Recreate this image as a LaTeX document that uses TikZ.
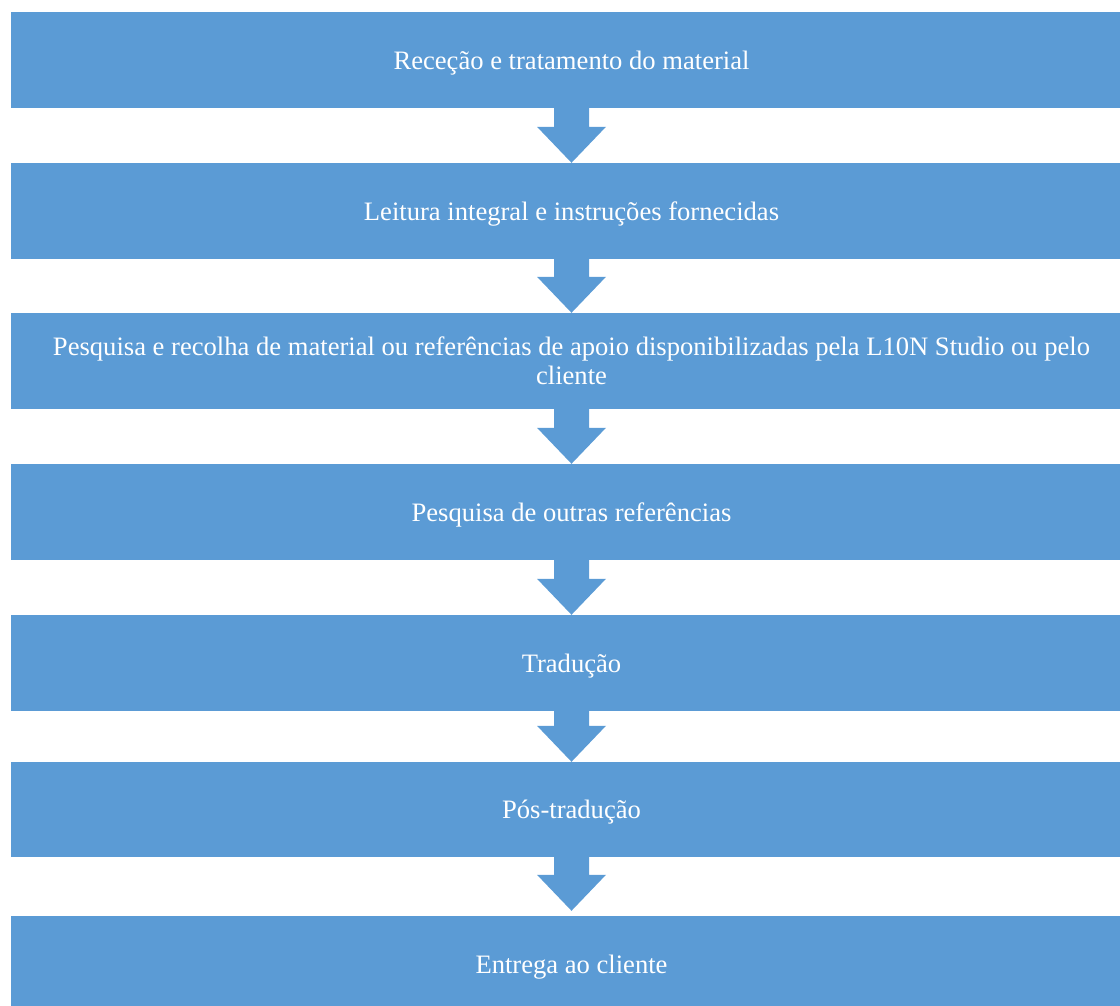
\documentclass[tikz,border=0pt]{standalone}
\usepackage{fontspec}
\setmainfont{Liberation Serif}
\usetikzlibrary{calc}
\definecolor{boxblue}{HTML}{5B9BD5}
\tikzset{
  stepbox/.style={rectangle, fill=boxblue, draw=none, text=white,
    minimum width=1122pt, minimum height=96pt, inner sep=0pt, text depth=0pt,
    font=\fontsize{26.6}{29}\selectfont, align=center},
  blockarrow/.style={fill=boxblue, draw=none}
}
% #1 from node, #2 to node, #3 gap of tip above next box top (pt)
\newcommand{\flowarrow}[3]{%
  \path[blockarrow] let \p1=(#1.south), \p2=(#2.north) in
    (\x1-17.5pt,\y1+1pt) -- (\x1-17.5pt,\y2+#3pt+36pt) -- (\x1-34.5pt,\y2+#3pt+36pt)
    -- (\x1,\y2+#3pt) -- (\x1+34.5pt,\y2+#3pt+36pt) -- (\x1+17.5pt,\y2+#3pt+36pt)
    -- (\x1+17.5pt,\y1+1pt) -- cycle;}
\begin{document}
\begin{tikzpicture}[x=1pt,y=1pt]
\useasboundingbox (0,0) rectangle (1120,1006);
\clip (0,0) rectangle (1120,1006);
% image y -> canvas y = 1006 - y
\node[stepbox] (b1) at (571.5,946) {Receção e tratamento do material};
\node[stepbox] (b2) at (571.5,795) {Leitura integral e instruções fornecidas};
\node[stepbox] (b3) at (571.5,645) {Pesquisa e recolha de material ou referências de apoio disponibilizadas pela L10N Studio ou pelo\\cliente};
\node[stepbox] (b4) at (571.5,494) {Pesquisa de outras referências};
\node[stepbox] (b5) at (571.5,343) {Tradução};
\node[stepbox, minimum height=95pt] (b6) at (571.5,196.5) {Pós-tradução};
\node[stepbox] (b7) at (571.5,42) {Entrega ao cliente};
\flowarrow{b1}{b2}{0}
\flowarrow{b2}{b3}{0}
\flowarrow{b3}{b4}{0}
\flowarrow{b4}{b5}{0}
\flowarrow{b5}{b6}{0}
\flowarrow{b6}{b7}{5}
\end{tikzpicture}
\end{document}
